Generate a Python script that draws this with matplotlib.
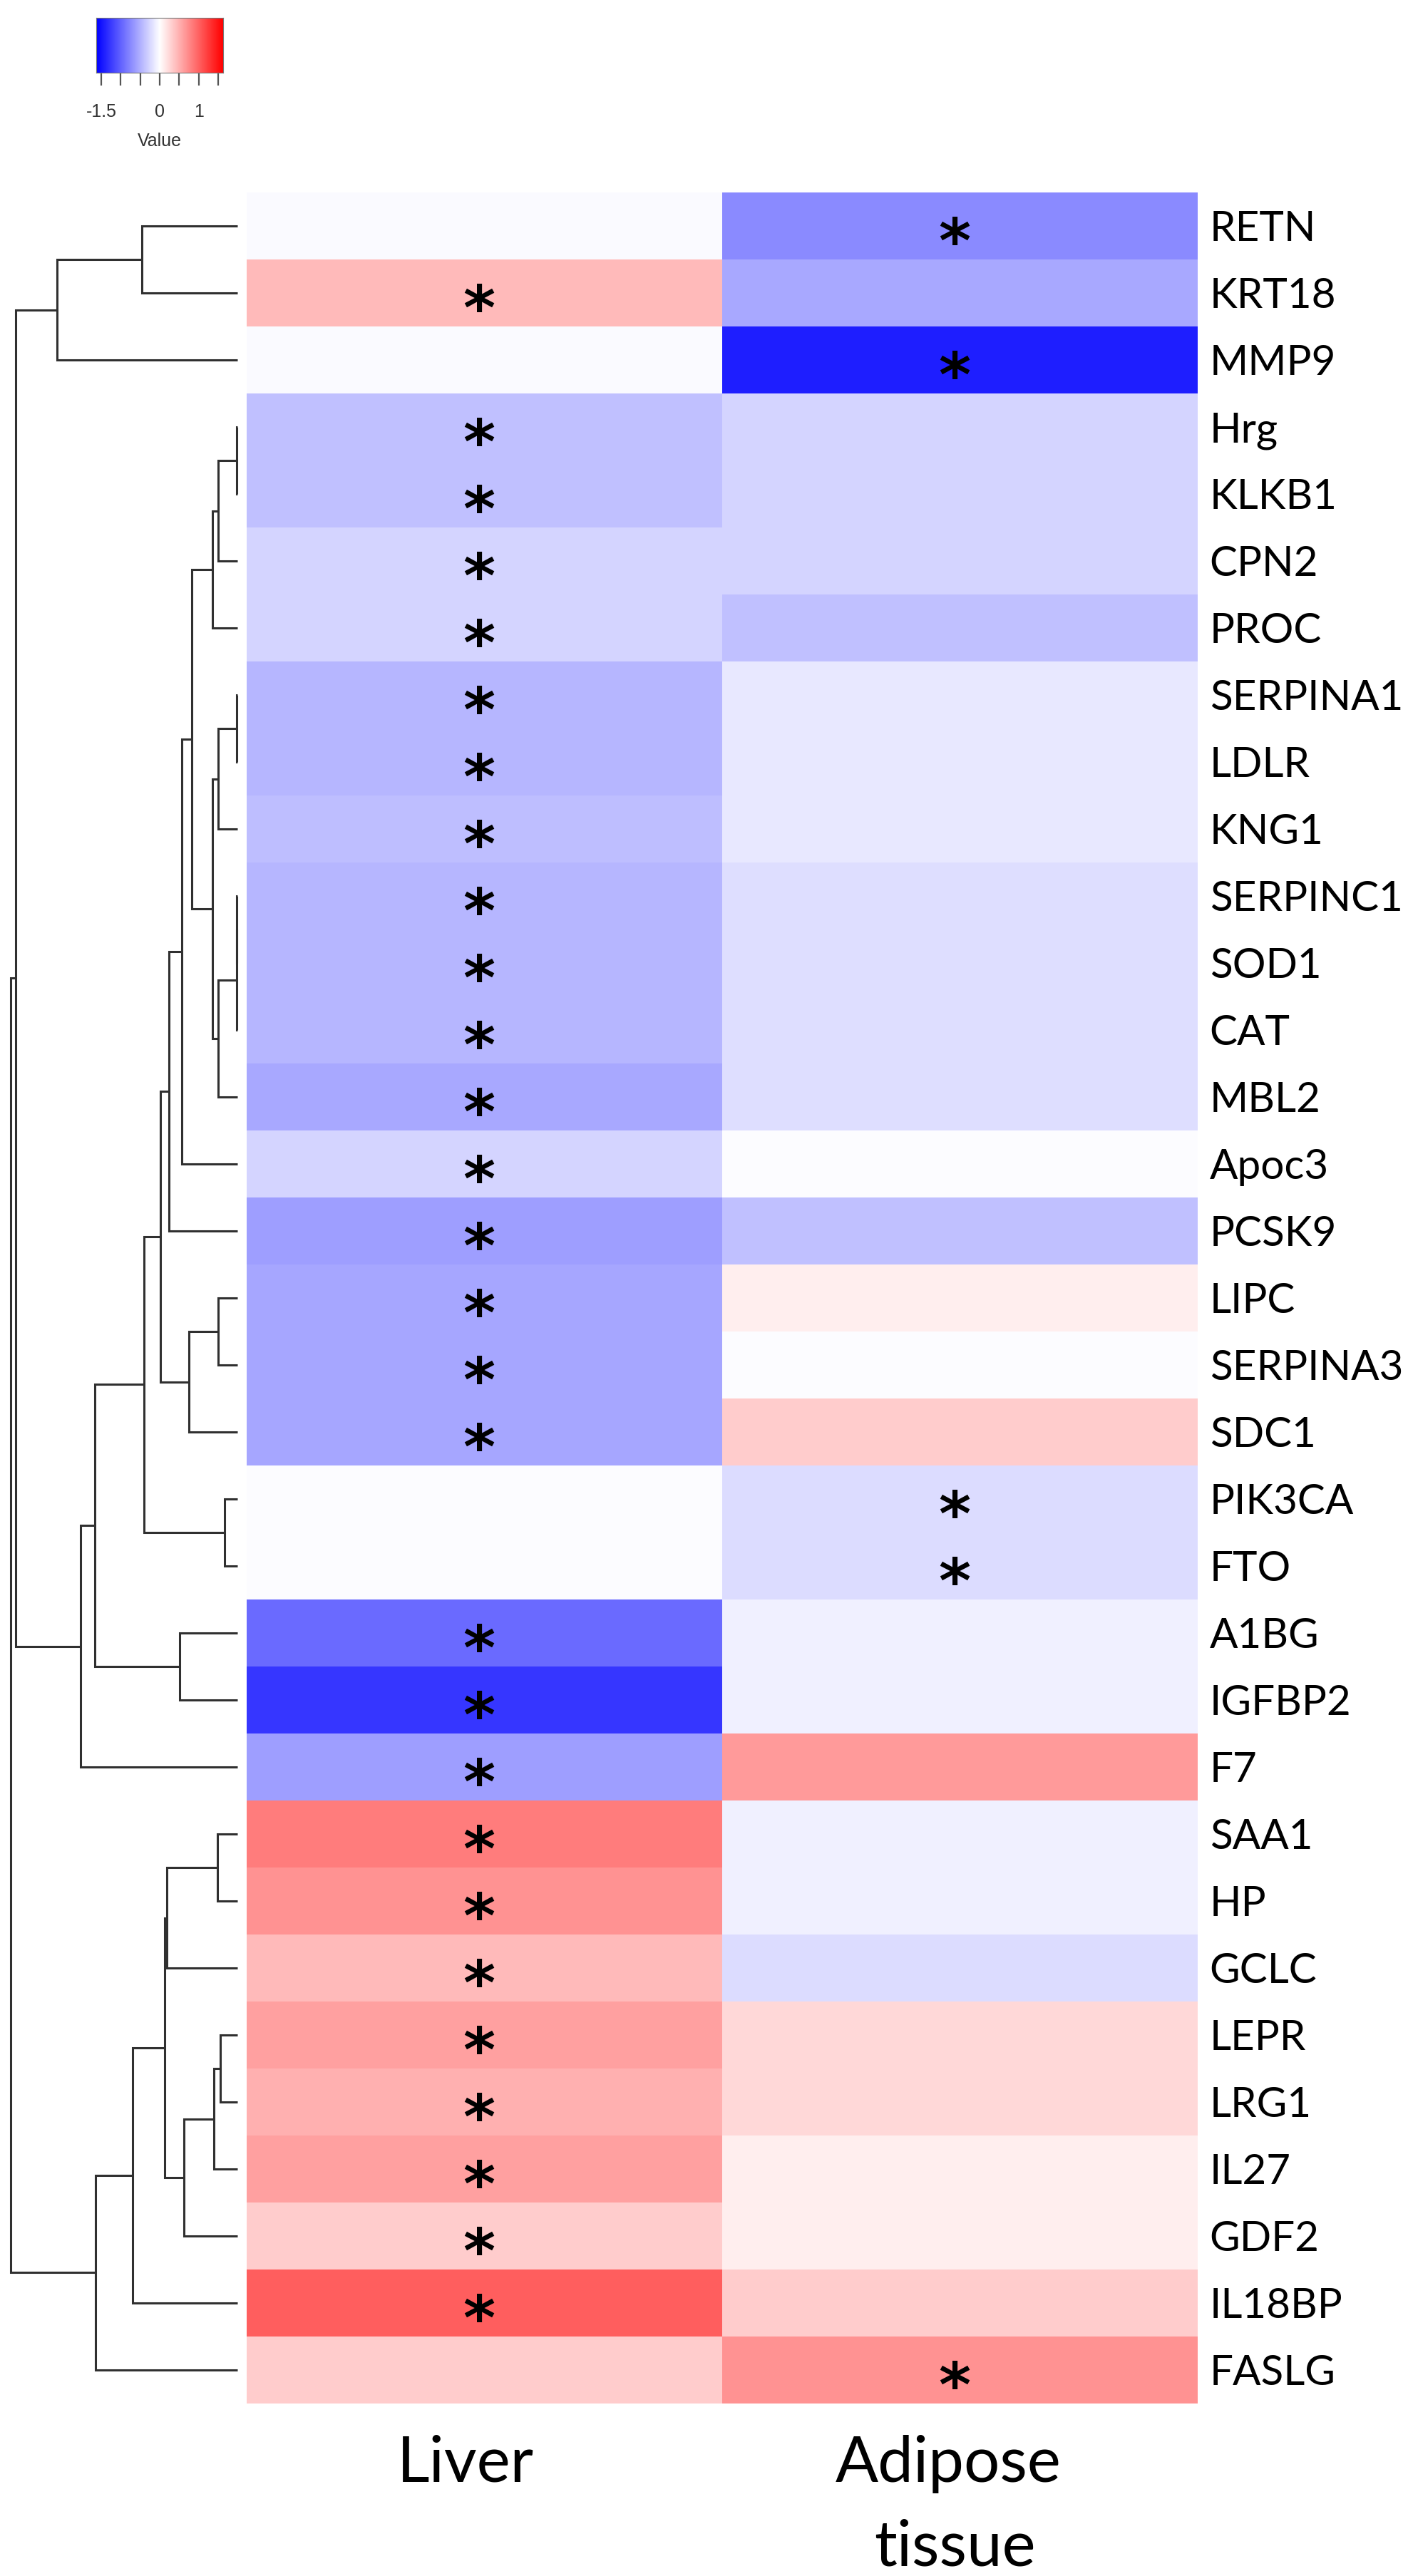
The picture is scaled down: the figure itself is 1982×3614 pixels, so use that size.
import numpy as np
import matplotlib
matplotlib.use('Agg')
import matplotlib.pyplot as plt
from matplotlib.colors import LinearSegmentedColormap
from matplotlib.transforms import blended_transform_factory, offset_copy
from matplotlib.textpath import TextPath
from matplotlib.font_manager import FontProperties

plt.rcParams['font.family'] = ['Lato', 'DejaVu Sans']

# rows, top to bottom (dendrogram order)
genes = ['RETN', 'KRT18', 'MMP9', 'Hrg', 'KLKB1', 'CPN2', 'PROC', 'SERPINA1',
         'LDLR', 'KNG1', 'SERPINC1', 'SOD1', 'CAT', 'MBL2', 'Apoc3', 'PCSK9',
         'LIPC', 'SERPINA3', 'SDC1', 'PIK3CA', 'FTO', 'A1BG', 'IGFBP2', 'F7',
         'SAA1', 'HP', 'GCLC', 'LEPR', 'LRG1', 'IL27', 'GDF2', 'IL18BP', 'FASLG']
tissues = ['Liver', 'Adipose tissue']

liver = [-0.03, 0.44, -0.03, -0.40, -0.40, -0.28, -0.28, -0.46, -0.46, -0.41,
         -0.46, -0.46, -0.46, -0.55, -0.27, -0.62, -0.57, -0.57, -0.57, -0.02,
         -0.02, -0.95, -1.28, -0.62, 0.83, 0.70, 0.44, 0.60, 0.50, 0.60,
         0.32, 1.02, 0.32]
adipose = [-0.75, -0.55, -1.43, -0.28, -0.28, -0.28, -0.40, -0.15, -0.15, -0.15,
           -0.21, -0.21, -0.21, -0.21, -0.02, -0.40, 0.11, -0.02, 0.32, -0.22,
           -0.22, -0.10, -0.10, 0.64, -0.10, -0.10, -0.22, 0.25, 0.25, 0.11,
           0.11, 0.32, 0.70]

# significance stars (1 = "*")
liver_sig = [0, 1, 0, 1, 1, 1, 1, 1, 1, 1, 1, 1, 1, 1, 1, 1, 1, 1, 1, 0, 0,
             1, 1, 1, 1, 1, 1, 1, 1, 1, 1, 1, 0]
adipose_sig = [1, 0, 1, 0, 0, 0, 0, 0, 0, 0, 0, 0, 0, 0, 0, 0, 0, 0, 0, 1, 1,
               0, 0, 0, 0, 0, 0, 0, 0, 0, 0, 0, 1]

# row dendrogram merges: (child, child, height); 'nK' = result of merge K
merges = [
    ('RETN', 'KRT18', 1.34), ('n0', 'MMP9', 2.53),
    ('Hrg', 'KLKB1', 0.01), ('n2', 'CPN2', 0.27), ('n3', 'PROC', 0.35),
    ('SERPINA1', 'LDLR', 0.01), ('n5', 'KNG1', 0.27),
    ('SERPINC1', 'SOD1', 0.01), ('n7', 'CAT', 0.015), ('n8', 'MBL2', 0.27),
    ('n6', 'n9', 0.35), ('n4', 'n10', 0.64), ('n11', 'Apoc3', 0.78),
    ('n12', 'PCSK9', 0.96), ('LIPC', 'SERPINA3', 0.27), ('n14', 'SDC1', 0.68),
    ('n13', 'n15', 1.08), ('PIK3CA', 'FTO', 0.18), ('n16', 'n17', 1.31),
    ('A1BG', 'IGFBP2', 0.81), ('n18', 'n19', 2.00), ('n20', 'F7', 2.20),
    ('n1', 'n21', 3.11),
    ('SAA1', 'HP', 0.28), ('n23', 'GCLC', 0.99), ('LEPR', 'LRG1', 0.24),
    ('n25', 'IL27', 0.33), ('n26', 'GDF2', 0.75), ('n24', 'n27', 1.02),
    ('n28', 'IL18BP', 1.47), ('n29', 'FASLG', 1.99),
    ('n22', 'n30', 3.18),
]

W, H = 1983, 3614
fig = plt.figure(figsize=(W / 100, H / 100), dpi=100)

hm_top, hm_bot, hm_left, hm_right = 270, 3372, 346, 1680
nrow = len(genes)
data = np.column_stack([liver, adipose])

cmap = LinearSegmentedColormap.from_list('bwr_r', ['#0000FF', '#FFFFFF', '#FF0000'])
vlim = 1.63

# heatmap
ax = fig.add_axes([hm_left / W, (H - hm_bot) / H, (hm_right - hm_left) / W,
                   (hm_bot - hm_top) / H])
ax.pcolormesh(np.arange(3), np.arange(nrow + 1), data, cmap=cmap,
              vmin=-vlim, vmax=vlim)
ax.set_xlim(0, 2)
ax.set_ylim(nrow, 0)
for s in ax.spines.values():
    s.set_visible(False)
ax.set_xticks([])
ax.yaxis.tick_right()
ax.set_yticks(np.arange(nrow) + 0.5)
ax.set_yticklabels(genes, fontsize=42)
ax.tick_params(axis='y', length=0, pad=12)

# stars
star_fp = FontProperties(family='DejaVu Sans', weight='bold')
bb = TextPath((0, 0), '*', size=1, prop=star_fp).get_extents()
star_px = 40 / bb.height
star_pt = star_px * 72 / 100
dx = -(bb.x0 + bb.x1) / 2 * star_px - 8
dy = -((bb.y0 + bb.y1) / 2 * star_px + 7)
star_tr = offset_copy(ax.transData, fig=fig, x=dx, y=dy, units='dots')
for col, sig in enumerate([liver_sig, adipose_sig]):
    for i, s in enumerate(sig):
        if s:
            ax.text(col + 0.5, i + 0.5, '*', transform=star_tr, fontsize=star_pt,
                    family='DejaVu Sans', weight='bold', ha='left',
                    va='baseline', color='black')

# column labels
lab_tr = blended_transform_factory(ax.transData, fig.transFigure)
ax.text(0.46, (H - 3482) / H, 'Liver', transform=lab_tr, ha='center',
        va='baseline', fontsize=64)
ax.text(1.475, (H - 3482) / H, tissues[1].split()[0], transform=lab_tr,
        ha='center', va='baseline', fontsize=64)
ax.text(1.49, (H - 3600) / H, tissues[1].split()[1], transform=lab_tr,
        ha='center', va='baseline', fontsize=64)

# dendrogram
axd = fig.add_axes([0, (H - hm_bot) / H, hm_left / W, (hm_bot - hm_top) / H])
axd.set_xlim(3.33, -0.13)
axd.set_ylim(nrow, 0)
axd.axis('off')
pos = {g: (i + 0.5, 0.0) for i, g in enumerate(genes)}
for k, (a, b, h) in enumerate(merges):
    ya, ha = pos[a]
    yb, hb = pos[b]
    axd.plot([ha, h, h, hb], [ya, ya, yb, yb], color='#303030', lw=2.2,
             solid_capstyle='butt', solid_joinstyle='miter')
    pos['n%d' % k] = ((ya + yb) / 2, h)

# colour key
axc = fig.add_axes([135 / W, (H - 102) / H, 178 / W, 77 / H])
grad = np.linspace(-vlim, vlim, 256)[None, :]
axc.imshow(grad, cmap=cmap, vmin=-vlim, vmax=vlim, aspect='auto',
           extent=[-vlim, vlim, 0, 1])
axc.set_yticks([])
key_ticks = [-1.5, -1, -0.5, 0, 0.5, 1, 1.5]
key_labels = ['-1.5', '', '', '0', '', '1', '']
axc.set_xticks(key_ticks)
axc.set_xticklabels(key_labels, fontsize=18, family='Liberation Sans',
                    color='#333333')
axc.tick_params(axis='x', length=13, width=1.6, color='#555555', pad=18)
axc.set_xlabel('Value', fontsize=18, family='Liberation Sans', color='#333333',
               labelpad=12)
for s in axc.spines.values():
    s.set_color('#777777')
    s.set_linewidth(0.8)

fig.savefig('out.png', dpi=100)
